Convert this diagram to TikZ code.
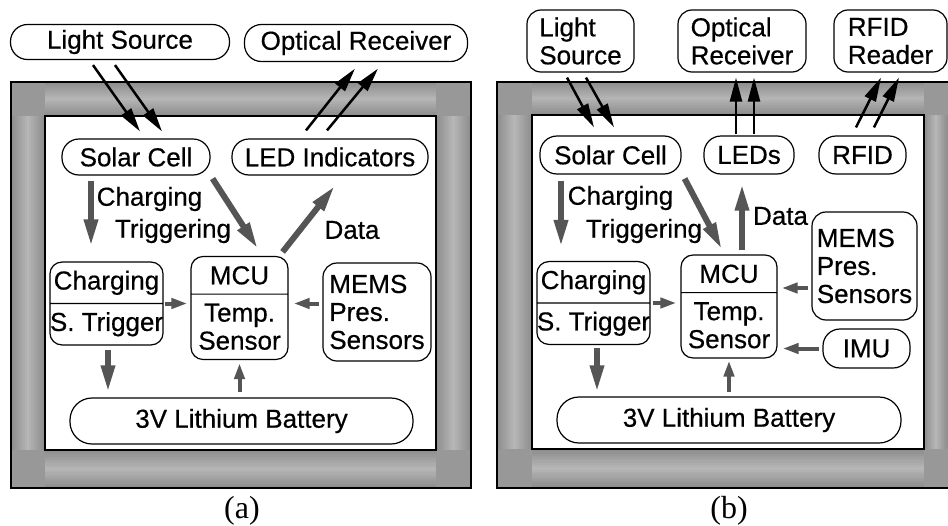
\documentclass[tikz,border=0pt]{standalone}
\definecolor{framedark}{RGB}{142, 142, 142}
\definecolor{framelight}{RGB}{182, 182, 182}
\definecolor{framecorner}{RGB}{152, 152, 152}
\definecolor{arrowgray}{RGB}{85, 85, 85}
\usepackage{fontspec}
\setmainfont{Liberation Sans}
\newfontfamily\diagfont{Liberation Sans}[FakeBold=0.5]
\newfontfamily\capfont{Liberation Serif}
\usetikzlibrary{shapes.multipart, arrows.meta}

% stepped bevel bands of the frames (shaded across their thickness)
\newcommand{\hband}[4]{%
  \foreach \i in {0,...,16} {
    \pgfmathtruncatemacro\shadep{100*abs(\i-8)/8}
    \pgfmathsetmacro\ya{#2+\i*(#4-#2)/17}
    \pgfmathsetmacro\yb{#2+(\i+1)*(#4-#2)/17+0.3}
    \fill[framedark!\shadep!framelight] (#1,\ya) rectangle (#3,\yb);
  }}
\newcommand{\vband}[4]{%
  \foreach \i in {0,...,16} {
    \pgfmathtruncatemacro\shadep{100*abs(\i-8)/8}
    \pgfmathsetmacro\xa{#1+\i*(#3-#1)/17}
    \pgfmathsetmacro\xb{#1+(\i+1)*(#3-#1)/17+0.3}
    \fill[framedark!\shadep!framelight] (\xa,#2) rectangle (\xb,#4);
  }}

\begin{document}
\begin{tikzpicture}[
  x=1pt, y=-1pt,
  font=\diagfont\fontsize{26}{28}\selectfont,
  pill/.style={draw, line width=1.2pt, rounded corners=17pt, minimum height=36pt, inner sep=2pt},
  tallbox/.style={draw, line width=1.2pt, rounded corners=14pt, align=left, inner sep=3pt},
  splitbox/.style={draw, line width=1.2pt, rounded corners=12pt, rectangle split, rectangle split parts=2, align=center, inner xsep=0pt, inner ysep=8pt},
  garrow/.style={draw=arrowgray, line width=6pt, -{Triangle[length=27pt,width=13pt]}},
  gshort/.style={draw=arrowgray, line width=4pt, -{Triangle[length=16pt,width=10pt]}},
  barrow/.style={line width=2.5pt, -{Triangle[length=24pt,width=12pt]}},
  lbl/.style={inner sep=0pt},
  caption/.style={font=\capfont\fontsize{32}{34}\selectfont}
]
  \useasboundingbox (0,0) rectangle (948,525);

  % frame (a)
  \fill[framecorner] (11,82) rectangle (471,488);
  \hband{45}{82}{436}{116}
  \hband{45}{450}{436}{488}
  \vband{11}{116}{45}{450}
  \vband{436}{116}{471}{450}
  \draw[line width=1.3pt] (11,82) rectangle (471,488);
  \draw[line width=1.1pt, fill=white] (45,116) rectangle (436,450);

  % frame (b)
  \fill[framecorner] (497,82) rectangle (948,488);
  \hband{532}{82}{924}{115}
  \hband{532}{449}{924}{488}
  \vband{497}{115}{532}{449}
  \vband{924}{115}{948}{449}
  \draw[line width=1.3pt] (948,82) -- (497,82) -- (497,488) -- (948,488);
  \draw[line width=1.1pt, fill=white] (532,115) rectangle (924,449);

  % nodes (a)
  \node[pill, minimum width=219pt, minimum height=35pt] (lsrc) at (120,42) {Light Source};
  \node[pill, minimum width=223pt, minimum height=37pt] (orecv) at (356,43) {Optical Receiver};
  \node[pill, minimum width=148pt] (solar) at (136,157) {Solar Cell};
  \node[pill, minimum width=196pt] (led) at (330,157) {LED Indicators};
  \node[splitbox, minimum width=113pt] (chg) at (106.5,303.5) {Charging \nodepart{two} S. Trigger};
  \node[splitbox, minimum width=97pt, inner ysep=9pt] (mcu) at (239.5,308) {MCU \nodepart{two} Temp.\\Sensor};
  \node[tallbox, minimum width=108pt, minimum height=98pt] (mems) at (377,312) {MEMS\\Pres.\\Sensors};
  \node[pill, minimum width=343pt, minimum height=46pt, rounded corners=22pt] (batt) at (241.5,421) {3V Lithium Battery};

  \node[lbl] (lchg) at (149.5,199) {Charging};
  \node[lbl] (ltrig) at (173,231) {Triggering};
  \node[lbl] (ldata) at (352,230) {Data};

  % nodes (b)
  \node[tallbox, minimum width=107pt, minimum height=62pt] (lsrc2) at (580.5,41) {Light\\Source};
  \node[tallbox, minimum width=128pt, minimum height=62pt] (orecv2) at (742,41) {Optical\\Receiver};
  \node[tallbox, minimum width=113pt, minimum height=62pt] (rfidr) at (890.5,41) {RFID\\Reader};
  \node[pill, minimum width=141pt, minimum height=38pt] (solar2) at (610.5,155) {Solar Cell};
  \node[pill, minimum width=90pt, minimum height=38pt] (leds) at (749,155) {LEDs};
  \node[pill, minimum width=87pt, minimum height=38pt] (rfid) at (862.5,155) {RFID};
  \node[tallbox, minimum width=105pt, minimum height=108pt] (mems2) at (864.5,266) {MEMS\\Pres.\\Sensors};
  \node[splitbox, minimum width=113pt] (chg2) at (593.5,303) {Charging \nodepart{two} S. Trigger};
  \node[splitbox, minimum width=96pt, inner ysep=9pt] (mcu2) at (729,306.5) {MCU \nodepart{two} Temp.\\Sensor};
  \node[pill, minimum width=87pt, minimum height=39pt] (imu) at (866.5,348.5) {IMU};
  \node[pill, minimum width=344pt, minimum height=46pt, rounded corners=22pt] (batt2) at (729,420) {3V Lithium Battery};

  \node[lbl] (lchg2) at (620.5,198) {Charging};
  \node[lbl] (ltrig2) at (644,231) {Triggering};
  \node[lbl] (ldata2) at (780.5,216) {Data};

  % light links (a)
  \draw[barrow] ([xshift=-27pt,yshift=-5pt]lsrc.south) -- ([xshift=4pt,yshift=7pt]solar.north);
  \draw[barrow] ([xshift=-5pt,yshift=-5pt]lsrc.south) -- ([xshift=26pt,yshift=7pt]solar.north);
  \draw[barrow] ([xshift=-24pt,yshift=8pt]led.north) -- ([xshift=-1pt,yshift=-6.5pt]orecv.south);
  \draw[barrow] ([xshift=-3pt,yshift=8pt]led.north) -- ([xshift=22pt,yshift=-6.5pt]orecv.south);

  % internal links (a)
  \draw[garrow] ([xshift=-45pt,yshift=-5pt]solar.south) -- ([xshift=-15.5pt,yshift=15pt]chg.north);
  \draw[garrow] ([xshift=2pt,yshift=-3pt]solar.south east) -- ([xshift=18.5pt,yshift=7pt]mcu.north);
  \draw[garrow] ([xshift=-6pt,yshift=4pt]mcu.north east) -- ([xshift=5pt,yshift=-10pt]led.south);
  \draw[gshort] ([xshift=1pt]chg.east) -- ([xshift=-3pt]chg.east -| mcu.west);
  \draw[gshort] ([xshift=-3pt]mems.west |- chg.east) -- ([xshift=5pt]mcu.east |- chg.east);
  \draw[garrow] ([xshift=1.5pt,yshift=-4pt]chg.south) -- ([xshift=1.5pt,yshift=5pt]chg.south |- batt.north);
  \draw[gshort] ([yshift=5pt]mcu.south |- batt.north) -- ([yshift=-3pt]mcu.south);

  % light and radio links (b)
  \draw[barrow] ([xshift=-13.5pt,yshift=-5pt]lsrc2.south) -- ([xshift=-16.5pt,yshift=8pt]solar2.north);
  \draw[barrow] ([xshift=5.5pt,yshift=-5pt]lsrc2.south) -- ([xshift=3.5pt,yshift=8pt]solar2.north);
  \draw[barrow] ([xshift=-13pt,yshift=1pt]leds.north) -- ([xshift=-6pt,yshift=-5pt]orecv2.south);
  \draw[barrow] ([xshift=5pt,yshift=1pt]leds.north) -- ([xshift=12pt,yshift=-5pt]orecv2.south);
  \draw[barrow] ([xshift=-6.5pt,yshift=8pt]rfid.north) -- ([xshift=-9.5pt,yshift=-5pt]rfidr.south);
  \draw[barrow] ([xshift=11.5pt,yshift=8pt]rfid.north) -- ([xshift=8.5pt,yshift=-5pt]rfidr.south);

  % internal links (b)
  \draw[garrow] ([xshift=-49.5pt,yshift=-6pt]solar2.south) -- ([xshift=-32.5pt,yshift=14pt]chg2.north);
  \draw[garrow] ([xshift=3pt,yshift=-4pt]solar2.south east) -- ([xshift=-7pt,yshift=5pt]mcu2.north);
  \draw[garrow] ([xshift=13pt,yshift=4pt]mcu2.north) -- ([xshift=-7pt,yshift=-9pt]leds.south);
  \draw[gshort] ([xshift=2pt]chg2.east) -- ([xshift=-4pt]chg2.east -| mcu2.west);
  \draw[gshort] ([xshift=-3pt,yshift=-22pt]mems2.west) -- ([xshift=4pt,yshift=-22pt]mems2.west -| mcu2.east);
  \draw[gshort] ([xshift=-3pt]imu.west) -- ([xshift=5pt]imu.west -| mcu2.east);
  \draw[garrow] ([xshift=3.5pt,yshift=-3pt]chg2.south) -- ([xshift=3.5pt,yshift=4pt]chg2.south |- batt2.north);
  \draw[gshort] ([yshift=4pt]mcu2.south |- batt2.north) -- ([yshift=-2pt]mcu2.south);

  \node[caption] (capa) at (242,511) {(a)};
  \node[caption] (capb) at (729,511) {(b)};
\end{tikzpicture}
\end{document}
